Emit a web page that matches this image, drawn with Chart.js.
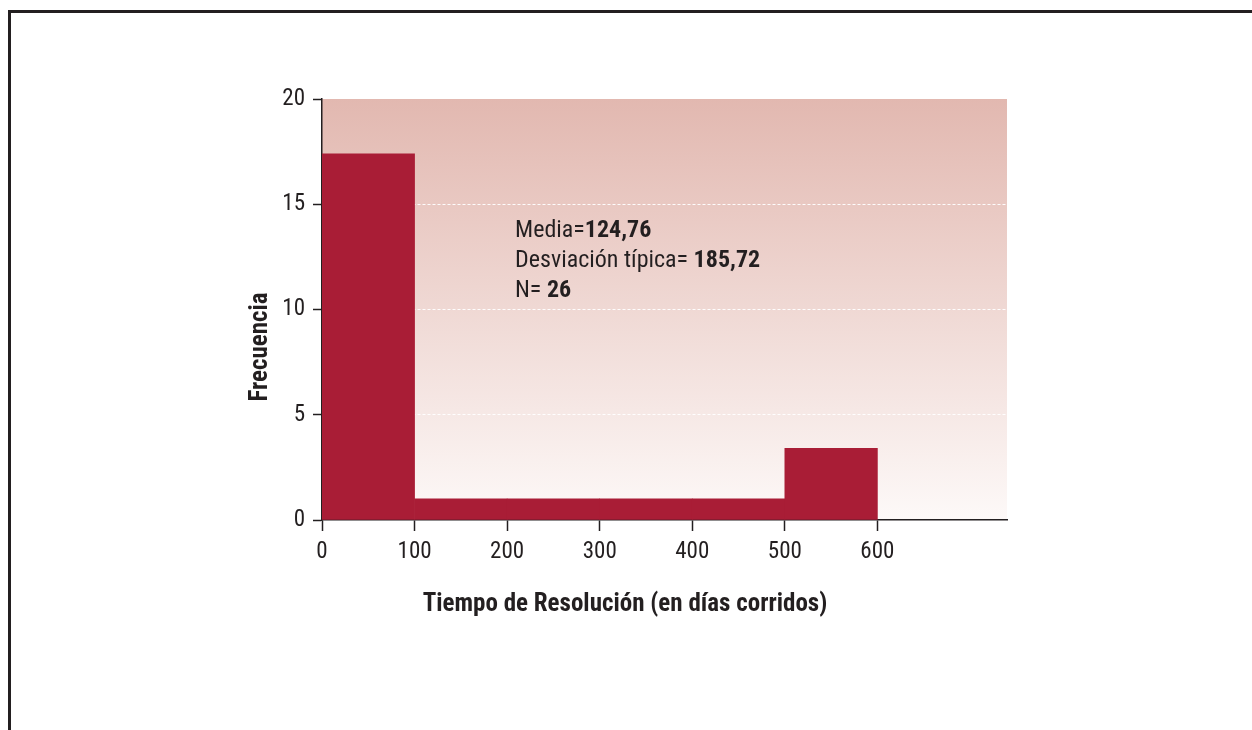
<!DOCTYPE html>
<html>
<head>
<meta charset="utf-8">
<script src="https://cdn.jsdelivr.net/npm/chart.js@4.4.1/dist/chart.umd.min.js"></script>
<style>
  html, body { margin: 0; padding: 0; background: #fff; overflow: hidden; }
  #frame { position: absolute; left: 8px; top: 10px; width: 1260px; height: 740px;
           border-left: 3px solid #231f20; border-top: 3px solid #231f20; }
  #wrap { position: absolute; left: 0; top: 0; width: 1252px; height: 730px; }
</style>
</head>
<body>
<div id="frame"></div>
<div id="wrap"><canvas id="mychart" width="1252" height="730"></canvas></div>
<script>
// Histograma: tiempo de resolución
const binStarts = [0, 100, 200, 300, 400, 500];
const binWidth = 100;
const frequencies = [17.4, 1, 1, 1, 1, 3.4];
const xTickValues = [0, 100, 200, 300, 400, 500, 600];
const yTickValues = [0, 5, 10, 15, 20];
const dashedLevels = [5, 10, 15];
const statsLines = [
  ['Media=', '124,76'],
  ['Desviación típica= ', '185,72'],
  ['N= ', '26']
];
const xTitle = 'Tiempo de Resolución (en días corridos)';
const yTitle = 'Frecuencia';

const FONT = '"Roboto Condensed", "Liberation Sans Narrow", "Arial Narrow", sans-serif';
const INK = '#231f20';
const BAR = '#a91d36';

const backgroundPlugin = {
  id: 'plotBackground',
  beforeDraw(chart) {
    const { ctx, chartArea: a } = chart;
    const g = ctx.createLinearGradient(0, a.top, 0, a.bottom);
    g.addColorStop(0, '#e2b8b0');
    g.addColorStop(1, '#fdf9f8');
    ctx.save();
    ctx.fillStyle = g;
    ctx.fillRect(a.left, a.top, a.right - a.left, a.bottom - a.top);
    ctx.restore();
  }
};

const textPlugin = {
  id: 'chartTexts',
  afterDraw(chart) {
    const { ctx } = chart;
    ctx.save();
    ctx.fillStyle = INK;

    // títulos de ejes
    ctx.font = 'bold 25px ' + FONT;
    ctx.textAlign = 'center';
    ctx.textBaseline = 'middle';
    ctx.fillText(xTitle, 625, 605);
    ctx.translate(261, 347);
    ctx.rotate(-Math.PI / 2);
    ctx.fillText(yTitle, 0, 0);
    ctx.setTransform(1, 0, 0, 1, 0, 0);

    // estadísticos
    ctx.textAlign = 'left';
    ctx.textBaseline = 'alphabetic';
    statsLines.forEach((line, i) => {
      const y = 237 + i * 30;
      ctx.font = '24px ' + FONT;
      ctx.fillText(line[0], 515, y);
      const w = ctx.measureText(line[0]).width;
      ctx.font = 'bold 24px ' + FONT;
      ctx.fillText(line[1], 515 + w, y);
    });
    ctx.restore();
  }
};

new Chart(document.querySelector('#mychart'), {
  type: 'bar',
  data: {
    datasets: [{
      data: binStarts.map((s, i) => ({ x: s + binWidth / 2, y: frequencies[i] })),
      backgroundColor: BAR,
      borderWidth: 0,
      barPercentage: 1,
      categoryPercentage: 1
    }]
  },
  options: {
    responsive: false,
    animation: false,
    layout: { padding: { left: 242, right: 245, top: 99, bottom: 150 } },
    plugins: { legend: { display: false }, tooltip: { enabled: false } },
    scales: {
      x: {
        type: 'linear',
        min: 0,
        max: 740,
        offset: false,
        afterBuildTicks: (s) => { s.ticks = xTickValues.map((v) => ({ value: v })); },
        afterFit: (s) => { s.height = 60; },
        ticks: { color: INK, font: { family: FONT, size: 23 }, padding: 7, maxRotation: 0 },
        grid: { offset: false, drawOnChartArea: false, tickLength: 11, tickColor: INK, tickWidth: 1.5 },
        border: { color: INK, width: 1.5 }
      },
      y: {
        min: 0,
        max: 20,
        afterBuildTicks: (s) => { s.ticks = yTickValues.map((v) => ({ value: v })); },
        afterFit: (s) => { s.width = 80; },
        ticks: { color: INK, font: { family: FONT, size: 23 }, padding: 8 },
        grid: {
          color: (c) => (c.tick && dashedLevels.includes(c.tick.value) ? 'rgba(255,255,255,0.95)' : 'rgba(0,0,0,0)'),
          lineWidth: 1,
          tickLength: 9,
          tickColor: INK,
          tickWidth: 1.5
        },
        border: { color: INK, width: 1.5, dash: [3, 2] }
      }
    }
  },
  plugins: [backgroundPlugin, textPlugin]
});
</script>
</body>
</html>
